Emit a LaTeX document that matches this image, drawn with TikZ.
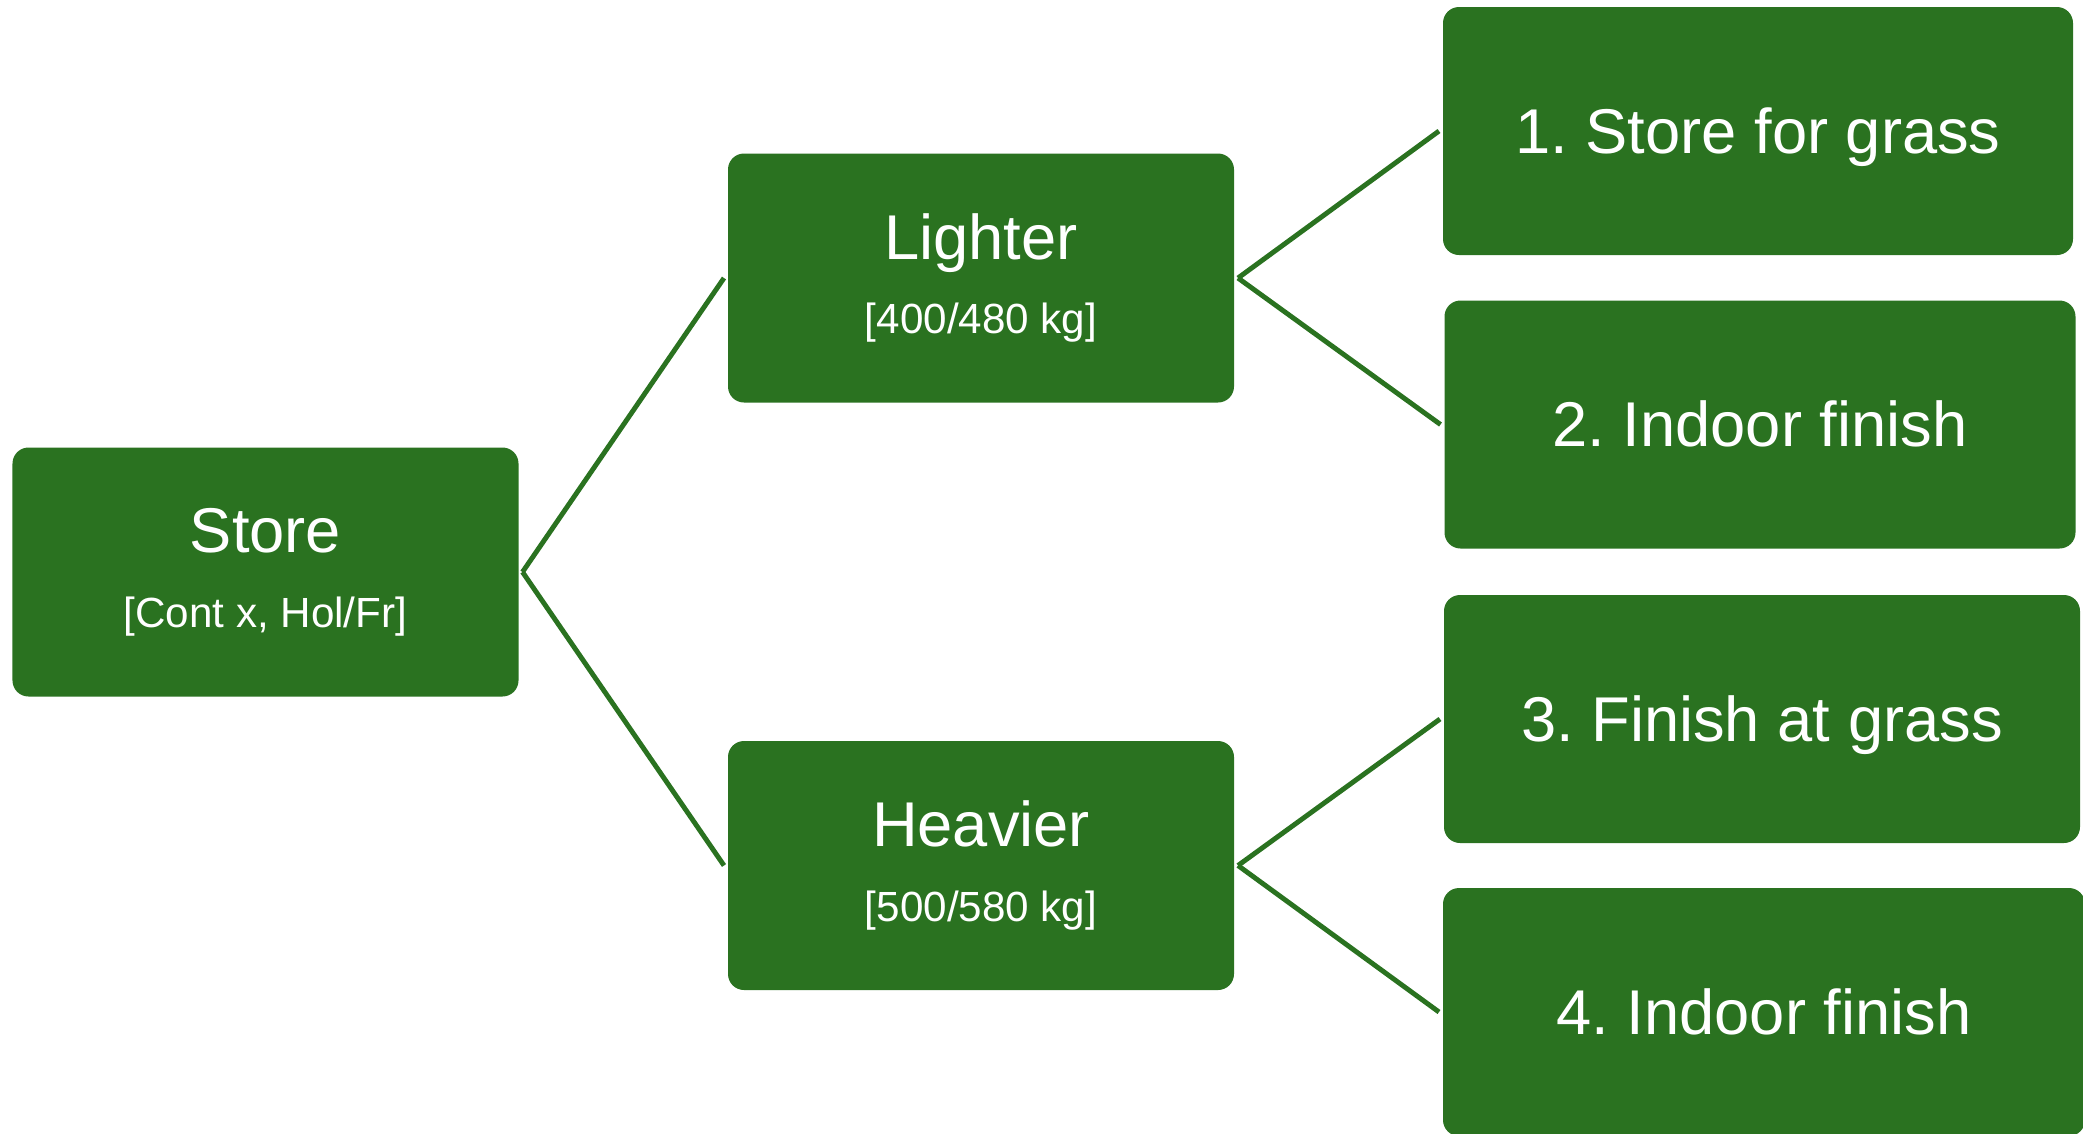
\documentclass[tikz,border=0pt]{standalone}
\usepackage{fontspec}
\setmainfont{Liberation Sans}
\usepackage{tikz}
\frenchspacing
\definecolor{leaf}{RGB}{42,114,32}
\tikzset{
	box/.style={fill=leaf, text=white, rounded corners=0.16cm, align=center, outer sep=0.04cm, font=\fontsize{18}{21.3}\selectfont},
	midbox/.style={box, minimum width=5.06cm, minimum height=2.49cm},
	endbox/.style={box, minimum width=6.3cm, minimum height=2.48cm, text height=12.6pt, text depth=0pt},
	link/.style={draw=leaf, line width=1.4pt}
}
\newcommand{\subline}[1]{{\fontsize{12}{14}\selectfont #1}}

\begin{document}
\begin{tikzpicture}
		%%%%% START %%%%%
		\useasboundingbox (0, 0) rectangle (20.83, -11.33);
		
		\node[midbox] (store) at (2.655, -5.72) {Store\\\subline{[Cont x, Hol/Fr]}};
		
		\node[midbox] (lighter) at (9.81, -2.78) {Lighter\\\subline{[400/480 kg]}};
		\node[midbox] (heavier) at (9.81, -8.655) {Heavier\\\subline{[500/580 kg]}};
		
		\node[endbox] (grass) at (17.58, -1.31) {1. Store for grass};
		\node[endbox, minimum width=6.31cm] (indoorA) at (17.6, -4.245) {2. Indoor finish};
		\node[endbox, minimum width=6.36cm] (finish) at (17.62, -7.19) {3. Finish at grass};
		\node[endbox, minimum width=6.42cm] (indoorB) at (17.64, -10.12) {4. Indoor finish};
		
		\draw[link] (store.east) -- (lighter.west);
		\draw[link] (store.east) -- (heavier.west);
		
		\draw[link] (lighter.east) -- (grass.west);
		\draw[link] (lighter.east) -- (indoorA.west);
		\draw[link] (heavier.east) -- (finish.west);
		\draw[link] (heavier.east) -- (indoorB.west);
		%%%%% END %%%%%
\end{tikzpicture}
\end{document}
